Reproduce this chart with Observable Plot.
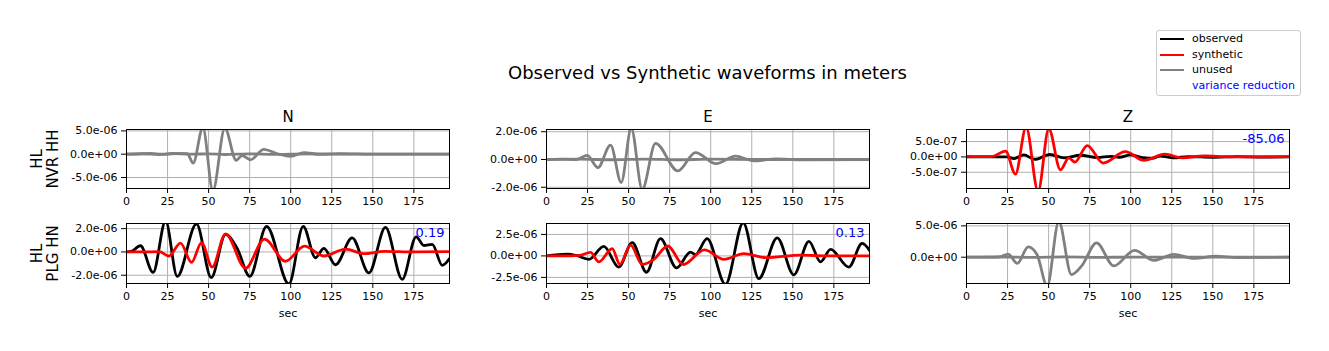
<!DOCTYPE html>
<html>
<head>
<meta charset="utf-8">
<script src="https://cdn.jsdelivr.net/npm/d3@7"></script>
<script src="https://cdn.jsdelivr.net/npm/@observablehq/plot@0.6"></script>
<style>
  body { margin: 0; background: #fff; font-family: "DejaVu Sans", sans-serif; }
  #fig { position: relative; width: 1329px; height: 351px; overflow: hidden; background: #fff; }
  #fig > svg, #fig > div { position: absolute; }
  .leg-row { position: absolute; left: 0; height: 14px; font-size: 11px; line-height: 14px; white-space: nowrap; }
  .leg-line { position: absolute; left: 3px; top: 6px; width: 24px; height: 0; border-top: 2.7px solid; }
  .leg-text { position: absolute; left: 35px; top: 0; }
</style>
</head>
<body>
<div id="fig"></div>
<script>
// ---------------- data ----------------
const figTitle = "Observed vs Synthetic waveforms in meters";
const components = ["N", "E", "Z"];
const stationLines = [["HL", "NVR HH"], ["HL", "PLG HN"]];
const xLabel = "sec";
const xTicks = [0, 25, 50, 75, 100, 125, 150, 175];
const xDomain = [0, 196.7];

// y limits and ticks per panel (row-major: NVR N,E,Z then PLG N,E,Z), metres
const yDomains = [
  [-7.36e-6, 5.3e-6], [-2.09e-6, 2.16e-6], [-1.03e-6, 0.895e-6],
  [-2.71e-6, 2.44e-6], [-3.21e-6, 3.77e-6], [-4.2e-6, 5.38e-6]
];
const yTicks = [
  [-5e-6, 0, 5e-6], [-2e-6, 0, 2e-6], [-5e-7, 0, 5e-7],
  [-2e-6, 0, 2e-6], [-2.5e-6, 0, 2.5e-6], [0, 5e-6]
];
const varianceReduction = [null, null, "-85.06", "0.19", "0.13", null];
const usedInInversion = [false, false, true, true, true, false];

// waveforms: [time (s), amplitude (micrometres)]
const nvrN_obs = [[0,0],[10,0.08],[20,-0.06],[30,0.12],[40,0],[50,0.08],[60,-0.06],[75,0.06],[90,-0.05],[100,0],[120,0.05],[150,0],[196.7,0]];
const nvrN_syn = [[0,0],[14.6,0.15],[22,0],[27.8,0.15],[37,0.1],[40.6,-1.9],[46.5,5.7],[52.6,-7.8],[59.9,5.6],[66.8,-1.3],[70.4,-0.3],[75.5,-1.2],[83.6,1.05],[92,0.1],[100,-0.45],[108,0.35],[118,-0.05],[130,0.1],[150,0],[196.7,0]];
const nvrE_obs = [[0,0],[20,0.02],[40,-0.02],[60,0.03],[80,-0.02],[100,0.02],[130,0],[196.7,0.01]];
const nvrE_syn = [[0,0],[10,0.02],[18,0],[24.8,0.3],[31.3,-0.58],[39,1.04],[45.5,-1.66],[51.6,2.25],[58.3,-2.15],[66.4,1.16],[80,-0.82],[90.7,0.5],[103.3,-0.3],[115.1,0.24],[126.3,-0.1],[140,0.05],[155,-0.02],[196.7,0]];
const nvrZ_obs = [[0,0],[15,0.005],[25,0],[28.8,-0.055],[34.9,0.065],[41.6,-0.08],[50.8,0.08],[59.3,-0.03],[69.4,0.055],[79.6,-0.02],[88,0.02],[93,-0.01],[99.9,0.065],[107,-0.02],[113,-0.045],[118,0.03],[126,-0.03],[135,0.01],[150,-0.01],[165,0.01],[180,-0.005],[196.7,0]];
const nvrZ_syn = [[0,0.02],[15,0.01],[23.8,0.19],[29.8,-0.56],[36.3,0.97],[43.6,-1.12],[50.1,0.92],[57.2,-0.42],[62.3,-0.03],[66,-0.17],[73.5,0.37],[83.2,-0.2],[96.8,0.17],[108,-0.11],[120.8,0.09],[131.3,-0.03],[145,0.03],[160,0],[196.7,0.01]];
const plgN_obs = [[0,0],[3,0.05],[8.5,0.53],[16.2,-1.76],[23.8,2.65],[30.9,-2.1],[42.6,2.4],[51.6,-2.2],[60.3,1.5],[67.4,0.3],[75.1,-2.1],[85.3,2.2],[98.9,-2.75],[107.6,2.2],[115.1,-0.5],[120.2,0.3],[127.3,-1.1],[137.4,1.2],[147.6,-1.8],[157.7,2.1],[167.9,-2.35],[176.4,1.3],[181.1,0.55],[186.2,0.65],[192.3,-1.15],[196.7,-0.57]];
const plgN_syn = [[0,0],[10,0],[20,0.02],[25.8,-0.35],[32.9,0.75],[39.6,-0.9],[45.7,0.8],[52.2,-1.3],[60.3,1.55],[72.5,-1.4],[84,1.1],[96.8,-0.8],[108.4,0.5],[120.2,-0.35],[133.4,0.24],[144.5,-0.15],[157,0.05],[175,0],[196.7,0.02]];
const plgE_obs = [[0,0],[12.6,0.2],[18,0.05],[25.8,-0.4],[34.9,1.1],[44,-1.3],[52.2,1.55],[60.9,-1.9],[69.4,2.0],[79.2,-1.4],[87.7,0.45],[90.7,0.15],[97.8,2.0],[109,-3.3],[119.8,3.85],[129.3,-2.65],[140.5,2.1],[150.6,-2.2],[159.8,1.7],[166.9,-0.7],[173,0.75],[184.1,-1.3],[192.2,1.45],[196.7,0.65]];
const plgE_syn = [[0,0],[15,0],[20,0.05],[26.8,0.4],[31.9,-0.7],[40,0.85],[44.7,-1.0],[51.2,1.25],[58.3,-1.0],[65.4,-0.4],[73.9,1.15],[83.2,-1.0],[96.2,0.7],[108,-0.4],[120.2,0.27],[133.4,-0.2],[155,0.1],[170,0],[196.7,0]];
const plgZ_obs = [[0,0],[20,0.03],[40,-0.03],[60,0.04],[80,-0.03],[100,0.02],[130,0],[196.7,0]];
const plgZ_syn = [[0,0],[15,0],[20,0.05],[25.4,0.5],[30.9,-1.0],[37.6,1.65],[43,0.4],[49.1,-4.6],[56.2,5.7],[63.9,-2.77],[70.4,-1.3],[79.2,2.3],[89.7,-1.4],[102.3,1.1],[114.1,-0.5],[126.3,0.45],[138.4,-0.2],[152,0.15],[165,-0.05],[196.7,0]];

const legendItems = [
  {label: "observed", color: "black", line: true},
  {label: "synthetic", color: "red", line: true},
  {label: "unused", color: "gray", line: true},
  {label: "variance reduction", color: "blue", line: false}
];

// ---------------- build ----------------
const observed = [nvrN_obs, nvrE_obs, nvrZ_obs, plgN_obs, plgE_obs, plgZ_obs];
const synthetic = [nvrN_syn, nvrE_syn, nvrZ_syn, plgN_syn, plgE_syn, plgZ_syn];
const toRows = arr => arr.map(([t, v]) => ({t, v: v * 1e-6}));

const expFmt = v => v.toExponential(1).replace(/e([+-])(\d+)$/, (m, s, d) => "e" + s + d.padStart(2, "0"));

const fig = document.getElementById("fig");
const FONT = "DejaVu Sans";

// layout of the axes frames (pixels)
const frameLeft = [126, 546, 966];
const frameTop = [129, 223];
const frameH = [59, 60];
const frameW = 323;
const mL = 110, mR = 10, mT = 25, mB = 45;
const rowLabelDx = [-89.5, -73];

for (let i = 0; i < 6; i++) {
  const row = Math.floor(i / 3), col = i % 3;
  const used = usedInInversion[i];
  const marks = [
    Plot.gridX(xTicks, {stroke: "#b0b0b0", strokeOpacity: 1, strokeWidth: 1}),
    Plot.gridY(yTicks[i], {stroke: "#b0b0b0", strokeOpacity: 1, strokeWidth: 1}),
    Plot.line(toRows(observed[i]), {x: "t", y: "v", stroke: used ? "black" : "gray", strokeWidth: 2.8, curve: "monotone-x", clip: true}),
    Plot.line(toRows(synthetic[i]), {x: "t", y: "v", stroke: used ? "red" : "gray", strokeWidth: 2.8, curve: "monotone-x", clip: true}),
    Plot.axisX(xTicks, {tickSize: 5, tickPadding: 4, fontSize: 11, label: null, tickFormat: d => String(d)}),
    Plot.axisY(yTicks[i], {tickSize: 5, tickPadding: 4, fontSize: 11, label: null, tickFormat: expFmt}),
    Plot.frame({stroke: "black", strokeWidth: 1})
  ];
  if (row === 0) {
    marks.push(Plot.text([components[col]], {frameAnchor: "top", dy: -12.8, lineAnchor: "middle", fontSize: 15, fill: "black"}));
  } else {
    marks.push(Plot.text([xLabel], {frameAnchor: "bottom", dy: 29.5, lineAnchor: "middle", fontSize: 11, fill: "black"}));
  }
  if (col === 0) {
    stationLines[row].forEach((line, k) => {
      marks.push(Plot.text([line], {frameAnchor: "left", dx: rowLabelDx[k], rotate: -90, textAnchor: "middle", lineAnchor: "middle", fontSize: 15, fill: "black"}));
    });
  }
  if (varianceReduction[i]) {
    marks.push(Plot.text([varianceReduction[i]], {frameAnchor: "top-right", dx: -5, dy: 9.5, textAnchor: "end", lineAnchor: "middle", fontSize: 13, fill: "blue"}));
  }
  const chart = Plot.plot({
    width: mL + frameW + mR,
    height: mT + frameH[row] + mB,
    marginLeft: mL, marginRight: mR, marginTop: mT, marginBottom: mB,
    x: {domain: xDomain, axis: null},
    y: {domain: yDomains[i], axis: null},
    style: {fontFamily: FONT, fontSize: "11px", color: "black", background: "transparent", overflow: "visible"},
    marks
  });
  chart.style.left = (frameLeft[col] - mL) + "px";
  chart.style.top = (frameTop[row] - mT) + "px";
  chart.style.maxWidth = "none";
  fig.appendChild(chart);
}

// title (centred over the axes grid)
const title = document.createElement("div");
title.textContent = figTitle;
Object.assign(title.style, {left: "0px", width: "1415px", top: "62px", textAlign: "center", fontSize: "18px", lineHeight: "22px", color: "black", fontFamily: FONT});
fig.appendChild(title);

// legend
const leg = document.createElement("div");
Object.assign(leg.style, {left: "1156px", top: "30px", width: "143px", height: "64px", border: "1px solid #cccccc", borderRadius: "3px", background: "rgba(255,255,255,0.8)", fontFamily: FONT});
legendItems.forEach((it, k) => {
  const r = document.createElement("div");
  r.className = "leg-row";
  r.style.top = (1 + k * 15.6) + "px";
  if (it.line) {
    const l = document.createElement("div");
    l.className = "leg-line";
    l.style.borderTopColor = it.color;
    r.appendChild(l);
  }
  const t = document.createElement("div");
  t.className = "leg-text";
  t.textContent = it.label;
  t.style.color = it.line ? "black" : it.color;
  r.appendChild(t);
  leg.appendChild(r);
});
fig.appendChild(leg);
</script>
</body>
</html>
